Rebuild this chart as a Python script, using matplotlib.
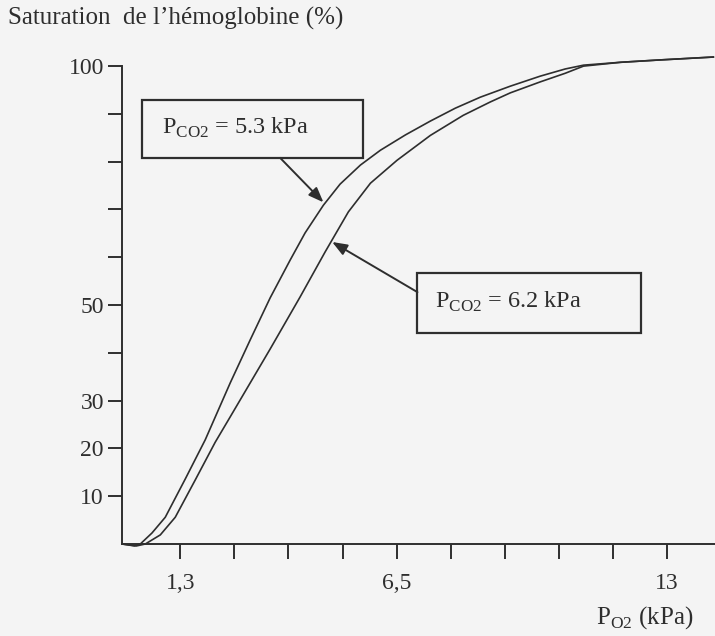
import matplotlib
matplotlib.use("Agg")
import matplotlib.pyplot as plt
from matplotlib.patches import Rectangle

plt.rcParams['font.family'] = ['Liberation Serif', 'DejaVu Serif']
plt.rcParams['mathtext.fontset'] = 'custom'
plt.rcParams['mathtext.rm'] = 'Liberation Serif'

# courbes (PO2 en kPa, saturation en %)
po2_53 = [-0.1, 0.2, 0.34, 0.62, 0.94, 1.42, 1.90, 2.50, 2.98, 3.46, 3.94, 4.30, 4.74,
          5.14, 5.63, 6.11, 6.71, 7.31, 7.91, 8.51, 9.23, 9.95, 10.55, 10.99, 11.88,
          12.84, 14.11]
sat_53 = [0, -0.4, 0, 2.3, 5.6, 13.6, 21.8, 33.7, 42.7, 51.5, 59.4, 65.1, 70.9,
          75.3, 79.3, 82.4, 85.6, 88.5, 91.2, 93.5, 95.8, 97.9, 99.4, 100.2, 100.8,
          101.3, 101.9]
po2_62 = [-0.1, 0.25, 0.46, 0.82, 1.18, 1.66, 2.14, 2.50, 2.98, 3.46, 4.18, 4.78, 5.34,
          5.87, 6.51, 7.31, 8.10, 8.75, 9.23, 9.95, 10.55, 10.99, 11.88, 12.84, 14.11]
sat_62 = [0, -0.4, 0, 1.9, 5.6, 13.4, 21.3, 26.6, 33.7, 40.8, 51.7, 61.1, 69.5,
          75.5, 80.3, 85.5, 89.7, 92.5, 94.4, 96.7, 98.5, 100.0, 100.8, 101.3, 101.9]

xticks = [1.3, 2.6, 3.9, 5.2, 6.5, 7.8, 9.1, 10.4, 11.7, 13.0]
xlabels = ['1,3', '', '', '', '6,5', '', '', '', '', '13']
yticks = [10, 20, 30, 40, 50, 60, 70, 80, 90, 100]
ylabels = ['10', '20', '30', '', '50', '', '', '', '', '100']

ink = '#2e2e2e'
bg = '#f4f4f4'

fig = plt.figure(figsize=(7.15, 6.36), dpi=100, facecolor=bg)
ax = fig.add_axes([122/715, 92/636, 593/715, (636-92-47)/636])
ax.set_facecolor(bg)
ax.set_xlim(-0.1, 14.15)
ax.set_ylim(0, 104)

ax.plot(po2_53, sat_53, color=ink, lw=1.2, clip_on=False)
ax.plot(po2_62, sat_62, color=ink, lw=1.2, clip_on=False)

for s in ['top', 'right']:
    ax.spines[s].set_visible(False)
for s in ['left', 'bottom']:
    ax.spines[s].set_color(ink)
    ax.spines[s].set_linewidth(1.4)
ax.spines['left'].set_bounds(0, 100)

ax.set_xticks(xticks)
ax.set_xticklabels(xlabels)
ax.set_yticks(yticks)
ax.set_yticklabels(ylabels)
ax.tick_params(axis='x', direction='out', length=11, width=1.4, color=ink,
               pad=10, labelsize=17, labelcolor=ink)
ax.tick_params(axis='y', direction='out', length=10, width=1.4, color=ink,
               pad=3, labelsize=17, labelcolor=ink)

fig.text(8/715, 1 - 18/636, "Saturation  de l\u2019h\u00e9moglobine (%)",
         fontsize=18, color=ink, ha='left', va='center')
fig.text(645/715, 1 - 618/636, r'P$_{\mathrm{O2}}$ (kPa)',
         fontsize=18, color=ink, ha='center', va='center')

# encadres
fig.patches.append(Rectangle((142/715, 1 - 158/636), 221/715, 58/636,
                             transform=fig.transFigure, fill=False,
                             edgecolor=ink, lw=1.6))
fig.patches.append(Rectangle((417/715, 1 - 333/636), 224/715, 60/636,
                             transform=fig.transFigure, fill=False,
                             edgecolor=ink, lw=1.6))
fig.text(162/715, 1 - 128/636, r'P$_{\mathrm{CO2}}$ = 5.3 kPa',
         fontsize=17.5, color=ink, ha='left', va='center')
fig.text(435/715, 1 - 302/636, r'P$_{\mathrm{CO2}}$ = 6.2 kPa',
         fontsize=17.5, color=ink, ha='left', va='center')

arrow = dict(arrowstyle='-|>,head_length=0.9,head_width=0.35', color=ink,
             lw=1.4, shrinkA=0, shrinkB=0)
ax.annotate('', xy=(4.74, 71.5), xytext=(3.70, 80.8), arrowprops=arrow)
ax.annotate('', xy=(4.95, 63.2), xytext=(7.0, 52.7), arrowprops=arrow)

fig.savefig('out.png', dpi=100, facecolor=bg)
